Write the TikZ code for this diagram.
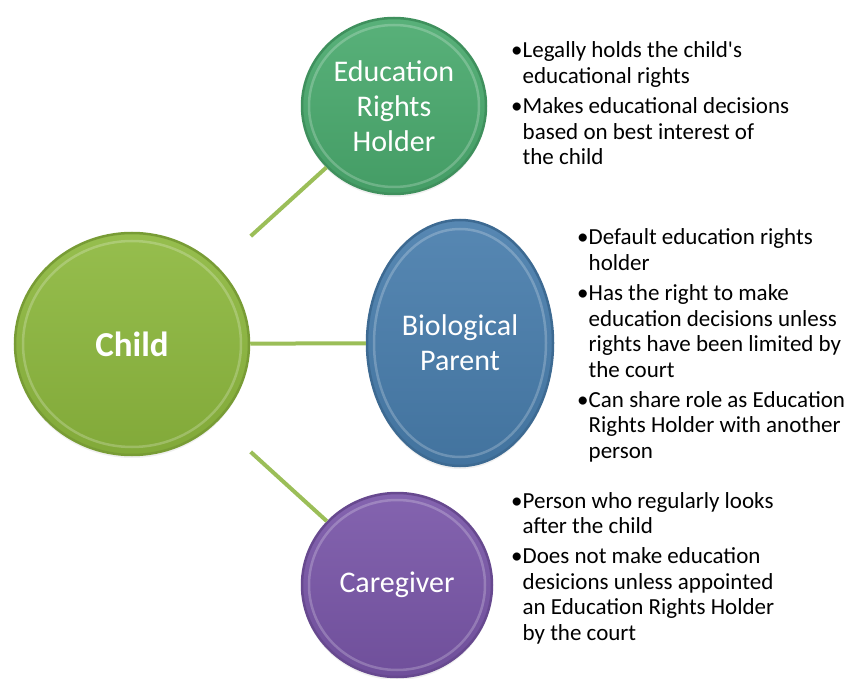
\documentclass[tikz,border=0pt]{standalone}
\usepackage{fontspec}
\setmainfont[Ligatures=TeXOff]{Carlito}
\usetikzlibrary{shapes.geometric,
	calc,
	shadows}
\definecolor{childgreen}{RGB}{141,184,62}
\definecolor{holdergreen}{RGB}{74,170,110}
\definecolor{parentblue}{RGB}{72,125,172}
\definecolor{carerpurple}{RGB}{121,86,168}
\definecolor{linkgreen}{RGB}{155,190,88}
\tikzstyle{bubble}=[ellipse, inner sep=0, align=center, text=white, line width=2.5pt,
		font=\fontsize{30}{35}\selectfont,
		drop shadow={opacity=.12, shadow xshift=0pt, shadow yshift=-3pt}]
\tikzstyle{ring}=[white, opacity=.22, line width=2.5pt]
\tikzstyle{link}=[draw=linkgreen, line width=4pt]
\tikzstyle{notes}=[inner sep=0, anchor=base west, align=left,
		font=\fontsize{23}{25.7}\selectfont]
\newcommand{\blt}{\makebox[11.5pt][l]{\textbullet}}

\begin{document}
\begin{tikzpicture}[x=1pt, y=-1pt]
        \useasboundingbox (0,0) rectangle (857,679);
        % circles
        \node[bubble, minimum width=234pt, minimum height=222pt, draw=childgreen!85!black,
            top color=childgreen!92!white, bottom color=childgreen!92!black,
            font=\fontsize{35}{40}\selectfont\bfseries] (child) at (132,344) {Child};
        \node[bubble, minimum width=184pt, minimum height=176pt, draw=holdergreen!85!black,
            top color=holdergreen!92!white, bottom color=holdergreen!92!black]
            (holder) at (394,106) {Education\\Rights\\Holder};
        \node[bubble, minimum width=186pt, minimum height=246pt, draw=parentblue!85!black,
            top color=parentblue!92!white, bottom color=parentblue!92!black]
            (parent) at (460,343) {Biological\\Parent};
        \node[bubble, minimum width=190pt, minimum height=184pt, draw=carerpurple!85!black,
            top color=carerpurple!92!white, bottom color=carerpurple!92!black]
            (carer) at (397,585) {Caregiver};
        % inner highlight
        \draw[ring] (child.center) ellipse [x radius=109, y radius=103];
        \draw[ring] (holder.center) ellipse [x radius=85, y radius=81];
        \draw[ring] (parent.center) ellipse [x radius=86, y radius=114];
        \draw[ring] (carer.center) ellipse [x radius=88, y radius=85];
        % links
        \draw[link, shorten <=45pt] (child) -- (holder);
        \draw[link] (child) -- (parent);
        \draw[link, shorten <=45pt] (child) -- (carer);
        % notes
        \node[notes] (holdernotes) at (511,58) {\begin{tabular}[t]{@{}l@{}l@{}}
            \blt & Legally holds the child's\\
                & educational rights\\[4pt]
            \blt & Makes educational decisions\\
                & based on best interest of\\
                & the child
        \end{tabular}};
        \node[notes] (parentnotes) at (577,245) {\begin{tabular}[t]{@{}l@{}l@{}}
            \blt & Default education rights\\
                & holder\\[4pt]
            \blt & Has the right to make\\
                & education decisions unless\\
                & rights have been limited by\\
                & the court\\[4pt]
            \blt & Can share role as Education\\
                & Rights Holder with another\\
                & person
        \end{tabular}};
        \node[notes] (carernotes) at (511,508) {\begin{tabular}[t]{@{}l@{}l@{}}
            \blt & Person who regularly looks\\
                & after the child\\[4pt]
            \blt & Does not make education\\
                & desicions unless appointed\\
                & an Education Rights Holder\\
                & by the court
        \end{tabular}};
    \end{tikzpicture}
\end{document}
